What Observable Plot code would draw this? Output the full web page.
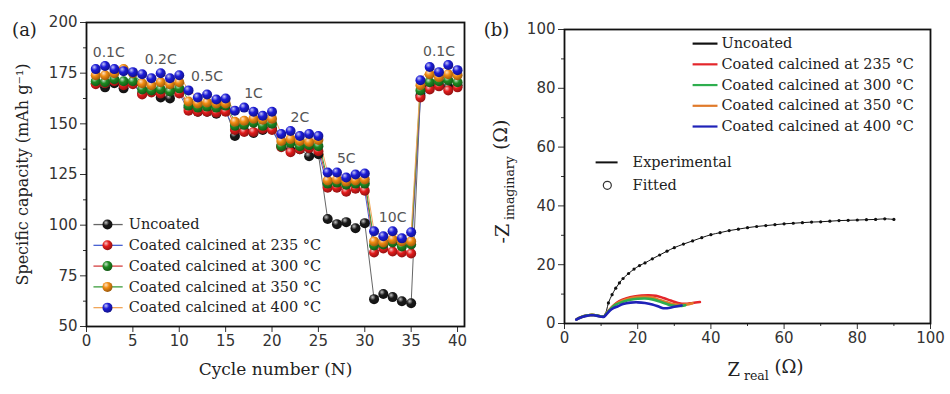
<!DOCTYPE html>
<html><head><meta charset="utf-8">
<script src="https://cdn.jsdelivr.net/npm/d3@7"></script>
<script src="https://cdn.jsdelivr.net/npm/@observablehq/plot@0.6"></script>
<style>
body{margin:0;background:#fff;}
#wrap{display:flex;width:950px;height:394px;overflow:hidden;}
#wrap svg{display:block;}
</style></head><body><div id="wrap"></div>
<script>
// ---------- Panel (a): rate capability ----------
const cycles = [1,2,3,4,5,6,7,8,9,10,11,12,13,14,15,16,17,18,19,20,21,22,23,24,25,26,27,28,29,30,31,32,33,34,35,36,37,38,39,40];
const capUncoated = [170,168,170,167.5,170, 165,166,163,162.5,166, 158,156,156,155,157, 144,146.5,145.5,147,147.5, 139,137,137.5,134,135, 103,100.5,101.5,98.5,101, 63.5,66,64.5,62.5,61.5, 164,168,169,168,169];
const cap235 = [169.5,170,171,169,169.5, 164.5,165.5,165,166.5,165, 156.5,156,156,155.5,156, 147,146,146,147.5,147, 138.5,136,137.5,138,136.5, 118.5,118.5,116.5,118,117, 86.5,88.5,87,86.5,86, 163,167,168.5,166.5,168];
const cap300 = [171,170.5,172,171,171, 167,166.5,167,166,167.5, 159,158,158.5,158,159, 149,149.5,150.5,149,150, 139,140.5,139,139.5,139, 120.5,121,120,120.5,120.5, 90,90.5,91.5,89.5,90.5, 166.5,170.5,171,171.5,170.5];
const cap350 = [174,174,175,177,175, 170,169,170.5,169.5,170.5, 161,160,160.5,160,160, 151,151.5,152.5,152,152.5, 141.5,142.5,141.5,141,142, 122,122.5,121.5,122,122.5, 92,91.5,93,92,92, 169,174.5,173,174.5,174];
const cap400 = [177,178.5,177,176,175.5, 174.5,172.5,175,172.5,174, 166.5,163,164.5,162,162.5, 156.5,158,156,154,156, 145,146.5,144,145,144, 126,126,123.5,125,125.5, 97,94.5,97,93.5,96.5, 171.5,178,175.5,179,176.5];
const seriesNames = ["Uncoated","Coated calcined at 235 \u00B0C","Coated calcined at 300 \u00B0C","Coated calcined at 350 \u00B0C","Coated calcined at 400 \u00B0C"];
const rateNames = ["0.1C","0.2C","0.5C","1C","2C","5C","10C","0.1C"];
const rateMidCycle = [2.4,8,13,18,23,28,33,38];
const yTicksA = [50,75,100,125,150,175,200];
const yMinorA = [62.5,87.5,112.5,137.5,162.5,187.5];
const xTicksA = [0,5,10,15,20,25,30,35,40];

// ---------- Panel (b): Nyquist plot ----------
const reUncoated = [3.2,4,5,6,7,8,9,10,10.8,11.5,12,13,14,15,16,17.5,19,20.5,22,24,26,28,30,32.5,35,37.5,40,42.5,45,47.5,50,52.5,55,57.5,60,62.5,65,67.5,70,72.5,75,77.5,80,82.5,85,87.5,90];
const imUncoated = [1.3,1.8,2.3,2.6,2.8,2.8,2.6,2.3,2.3,4.5,7,9.8,12,13.8,15.3,17,18.5,19.7,20.6,22,23.3,24.6,25.8,27,28.1,29.2,30.2,30.9,31.6,32.1,32.6,33,33.3,33.6,33.9,34.1,34.3,34.5,34.6,34.8,35,35.1,35.2,35.3,35.4,35.6,35.4];
const re235 = [3.3,4,5,6,7,8,9,10,10.8,11.5,12.5,13.5,15,17,19,21,23,25,27,29,31,33,35,37];
const im235 = [1.4,1.9,2.4,2.7,2.9,2.9,2.7,2.4,2.4,3.6,5,6.2,7.6,8.6,9.2,9.5,9.6,9.4,8.7,7.8,7,6.7,7,7.3];
const re300 = [3.3,4,5,6,7,8,9,10,10.8,11.5,12.5,14,16,18,20,22,24,26,28,30,32,33];
const im300 = [1.4,1.9,2.4,2.7,2.9,2.9,2.7,2.4,2.4,3.5,4.8,6.4,7.4,8.1,8.4,8.5,8.2,7.5,6.6,6,6,6.2];
const re350 = [3.3,4,5,6,7,8,9,10,10.8,11.5,12.5,14,16,18,20,22,24,26,28,30,32,34,35];
const im350 = [1.4,1.9,2.4,2.7,2.9,2.9,2.7,2.4,2.4,3.5,4.9,6.6,7.8,8.6,9,9.1,8.8,8,7.2,6.5,6.3,6.6,6.9];
const re400 = [3.2,4,5,6,7,8,9,10,10.8,11.5,12.5,13.5,14.5,16,18,20,22,24,26,27,28,30,32];
const im400 = [1.3,1.8,2.3,2.6,2.8,2.8,2.6,2.3,2.3,3.2,4.5,5.3,5.8,6.6,7.1,7.2,7,6.5,5.6,5.2,5.2,5.7,6.1];
const ticksB = [0,20,40,60,80,100];
const minorB = [10,30,50,70,90];

// ---------- styles ----------
const ballColors = ["#1a1a1a","#e31b1b","#1e8a22","#f28c12","#1c1cd8"];
const linkColors = ["#666666","#4a63d2","#d44040","#3c9c3c","#f0a65a"];
const nyqColors = ["#111111","#e4262b","#2eae4e","#e07a2a","#1f22b8"];
const SERIF = "DejaVu Serif";

// ===== Panel (a) =====
const capSeries = [capUncoated, cap235, cap300, cap350, cap400];
const rowsA = capSeries.map((cap, i) => cycles.map((c, j) => ({cycle: c, cap: cap[j], k: i})));
const rateRows = rateNames.map((n, g) => {
  const idx = [0,1,2,3,4].map(t => g * 5 + t);
  const top = d3.max(idx, j => cap400[j]);
  return {name: n, x: rateMidCycle[g], y: top + 6.8};
});

const marksA = [];
rowsA.forEach((rows, i) => marksA.push(Plot.line(rows, {x: "cycle", y: "cap", stroke: linkColors[i], strokeWidth: 1})));
rowsA.forEach((rows, i) => marksA.push(Plot.dot(rows, {x: "cycle", y: "cap", r: 5, fill: `url(#ball${i})`, stroke: "none"})));
seriesNames.forEach((name, i) => {
  const ly = 100.3 - i * 10.25;
  marksA.push(Plot.link([name], {x1: 0.75, x2: 3.9, y1: ly, y2: ly, stroke: linkColors[i], strokeWidth: 1.3}));
  marksA.push(Plot.dot([name], {x: 2.26, y: ly, r: 5, fill: `url(#ball${i})`, stroke: "none"}));
  marksA.push(Plot.text([name], {x: 4.55, y: ly, text: d => d, textAnchor: "start", fontFamily: SERIF, fontSize: 14.5, fill: "#222"}));
});
marksA.push(Plot.text(rateRows, {x: "x", y: "y", text: "name", fontSize: 14, fill: "#555"}));

const plotA = Plot.plot({
  width: 475, height: 394,
  marginLeft: 86, marginRight: 11, marginTop: 22, marginBottom: 68,
  x: {domain: [0, 40.75]},
  y: {domain: [50, 200]},
  style: {fontFamily: "DejaVu Sans", fontSize: "15px", color: "#333", background: "#fff"},
  marks: [
    Plot.axisX({ticks: xTicksA, tickSize: 6, tickPadding: 3, label: null}),
    Plot.axisY({ticks: yTicksA, tickSize: 6, tickPadding: 3, label: null}),
    Plot.axisY({ticks: yMinorA, tickSize: 3, tickFormat: () => "", label: null}),
    ...marksA,
    Plot.frame({stroke: "#111", strokeWidth: 1.8}),
    Plot.text(["Cycle number (N)"], {frameAnchor: "bottom", dy: 48, text: d => d, fontFamily: SERIF, fontSize: 17, fill: "#222"}),
    Plot.text(["Specific capacity (mAh g\u207B\u00B9)"], {frameAnchor: "left", dx: -64, rotate: -90, textAnchor: "middle", text: d => d, fontFamily: SERIF, fontSize: 16, fill: "#222"}),
    Plot.text(["(a)"], {frameAnchor: "top-left", dx: -62, dy: 1, textAnchor: "middle", text: d => d, fontFamily: SERIF, fontSize: 18, fill: "#222"})
  ]
});

// gradients for ball markers
const defs = d3.select(plotA).insert("defs", ":first-child");
ballColors.forEach((c, i) => {
  const g = defs.append("radialGradient").attr("id", `ball${i}`).attr("cx", "38%").attr("cy", "35%").attr("r", "65%").attr("fx", "35%").attr("fy", "30%");
  const base = d3.color(c);
  g.append("stop").attr("offset", "0%").attr("stop-color", d3.interpolateRgb(c, "#fff")(0.75));
  g.append("stop").attr("offset", "45%").attr("stop-color", c);
  g.append("stop").attr("offset", "100%").attr("stop-color", base.darker(1.2).formatHex());
});

// ===== Panel (b) =====
const nyq = [[reUncoated, imUncoated], [re235, im235], [re350, im350], [re300, im300], [re400, im400]];
const nyqColorIdx = [0, 1, 3, 2, 4];
const nyqRows = nyq.map(([re, im]) => re.map((r, j) => ({re: r, im: im[j]})));
const fittedRows = nyqRows[0].filter(d => d.re >= 12);

const marksB = [];
marksB.push(Plot.line(nyqRows[0], {x: "re", y: "im", stroke: nyqColors[0], strokeWidth: 1, curve: "catmull-rom"}));
marksB.push(Plot.dot(fittedRows, {x: "re", y: "im", r: 1.6, fill: "#111", stroke: "none"}));
for (let s = 1; s < 5; s++) {
  marksB.push(Plot.line(nyqRows[s], {x: "re", y: "im", stroke: nyqColors[nyqColorIdx[s]], strokeWidth: 2.6, curve: "catmull-rom"}));
}
seriesNames.forEach((name, i) => {
  const ly = 95.2 - i * 7.05;
  marksB.push(Plot.link([name], {x1: 35, x2: 41.8, y1: ly, y2: ly, stroke: nyqColors[i], strokeWidth: 2.2}));
  marksB.push(Plot.text([name], {x: 42.9, y: ly, text: d => d, textAnchor: "start", fontFamily: SERIF, fontSize: 14.5, fill: "#222"}));
});
marksB.push(Plot.link(["Experimental"], {x1: 8.5, x2: 14.5, y1: 54.8, y2: 54.8, stroke: "#111", strokeWidth: 2}));
marksB.push(Plot.text(["Experimental"], {x: 18.6, y: 54.8, text: d => d, textAnchor: "start", fontFamily: SERIF, fontSize: 14.5, fill: "#222"}));
marksB.push(Plot.dot(["Fitted"], {x: 11.7, y: 47, r: 4, fill: "none", stroke: "#333", strokeWidth: 1.2}));
marksB.push(Plot.text(["Fitted"], {x: 18.6, y: 47, text: d => d, textAnchor: "start", fontFamily: SERIF, fontSize: 14.5, fill: "#222"}));

const YTITLE_B = "-Z imaginary (\u03A9)";
const XTITLE_B = "Z real (\u03A9)";
const plotB = Plot.plot({
  width: 475, height: 394,
  marginLeft: 89, marginRight: 20, marginTop: 29, marginBottom: 71,
  x: {domain: [0, 100]},
  y: {domain: [0, 100]},
  style: {fontFamily: "DejaVu Sans", fontSize: "15px", color: "#333", background: "#fff"},
  marks: [
    Plot.axisX({ticks: ticksB, tickSize: 6, tickPadding: 3, label: null}),
    Plot.axisX({ticks: minorB, tickSize: 3, tickFormat: () => "", label: null}),
    Plot.axisY({ticks: ticksB, tickSize: 6, tickPadding: 3, label: null}),
    Plot.axisY({ticks: minorB, tickSize: 3, tickFormat: () => "", label: null}),
    ...marksB,
    Plot.frame({stroke: "#111", strokeWidth: 1.8}),
    Plot.text([XTITLE_B], {frameAnchor: "bottom", dx: 18, dy: 52, text: d => d, fontFamily: SERIF, fontSize: 18, fill: "#222"}),
    Plot.text([YTITLE_B], {frameAnchor: "left", dx: -61, dy: 5, rotate: -90, textAnchor: "middle", text: d => d, fontFamily: SERIF, fontSize: 18, fill: "#222"}),
    Plot.text(["(b)"], {frameAnchor: "top-left", dx: -68, dy: -6, textAnchor: "middle", text: d => d, fontFamily: SERIF, fontSize: 18, fill: "#222"})
  ]
});

function subscriptify(svg, full, main, sub, rest, mainSize) {
  d3.select(svg).selectAll("text").filter(function() { return this.textContent === full; }).each(function() {
    const t = d3.select(this);
    t.text(null);
    t.append("tspan").text(main).attr("font-size", mainSize);
    t.append("tspan").text(" " + sub).attr("font-size", 12.5).attr("dy", "0.38em");
    t.append("tspan").text(" " + rest).attr("font-size", mainSize).attr("dy", "-0.38em");
  });
}
subscriptify(plotB, YTITLE_B, "-Z", "imaginary", "(\u03A9)", 19);
subscriptify(plotB, XTITLE_B, "Z", "real", "(\u03A9)", 18);

document.getElementById("wrap").append(plotA, plotB);
</script></body></html>
